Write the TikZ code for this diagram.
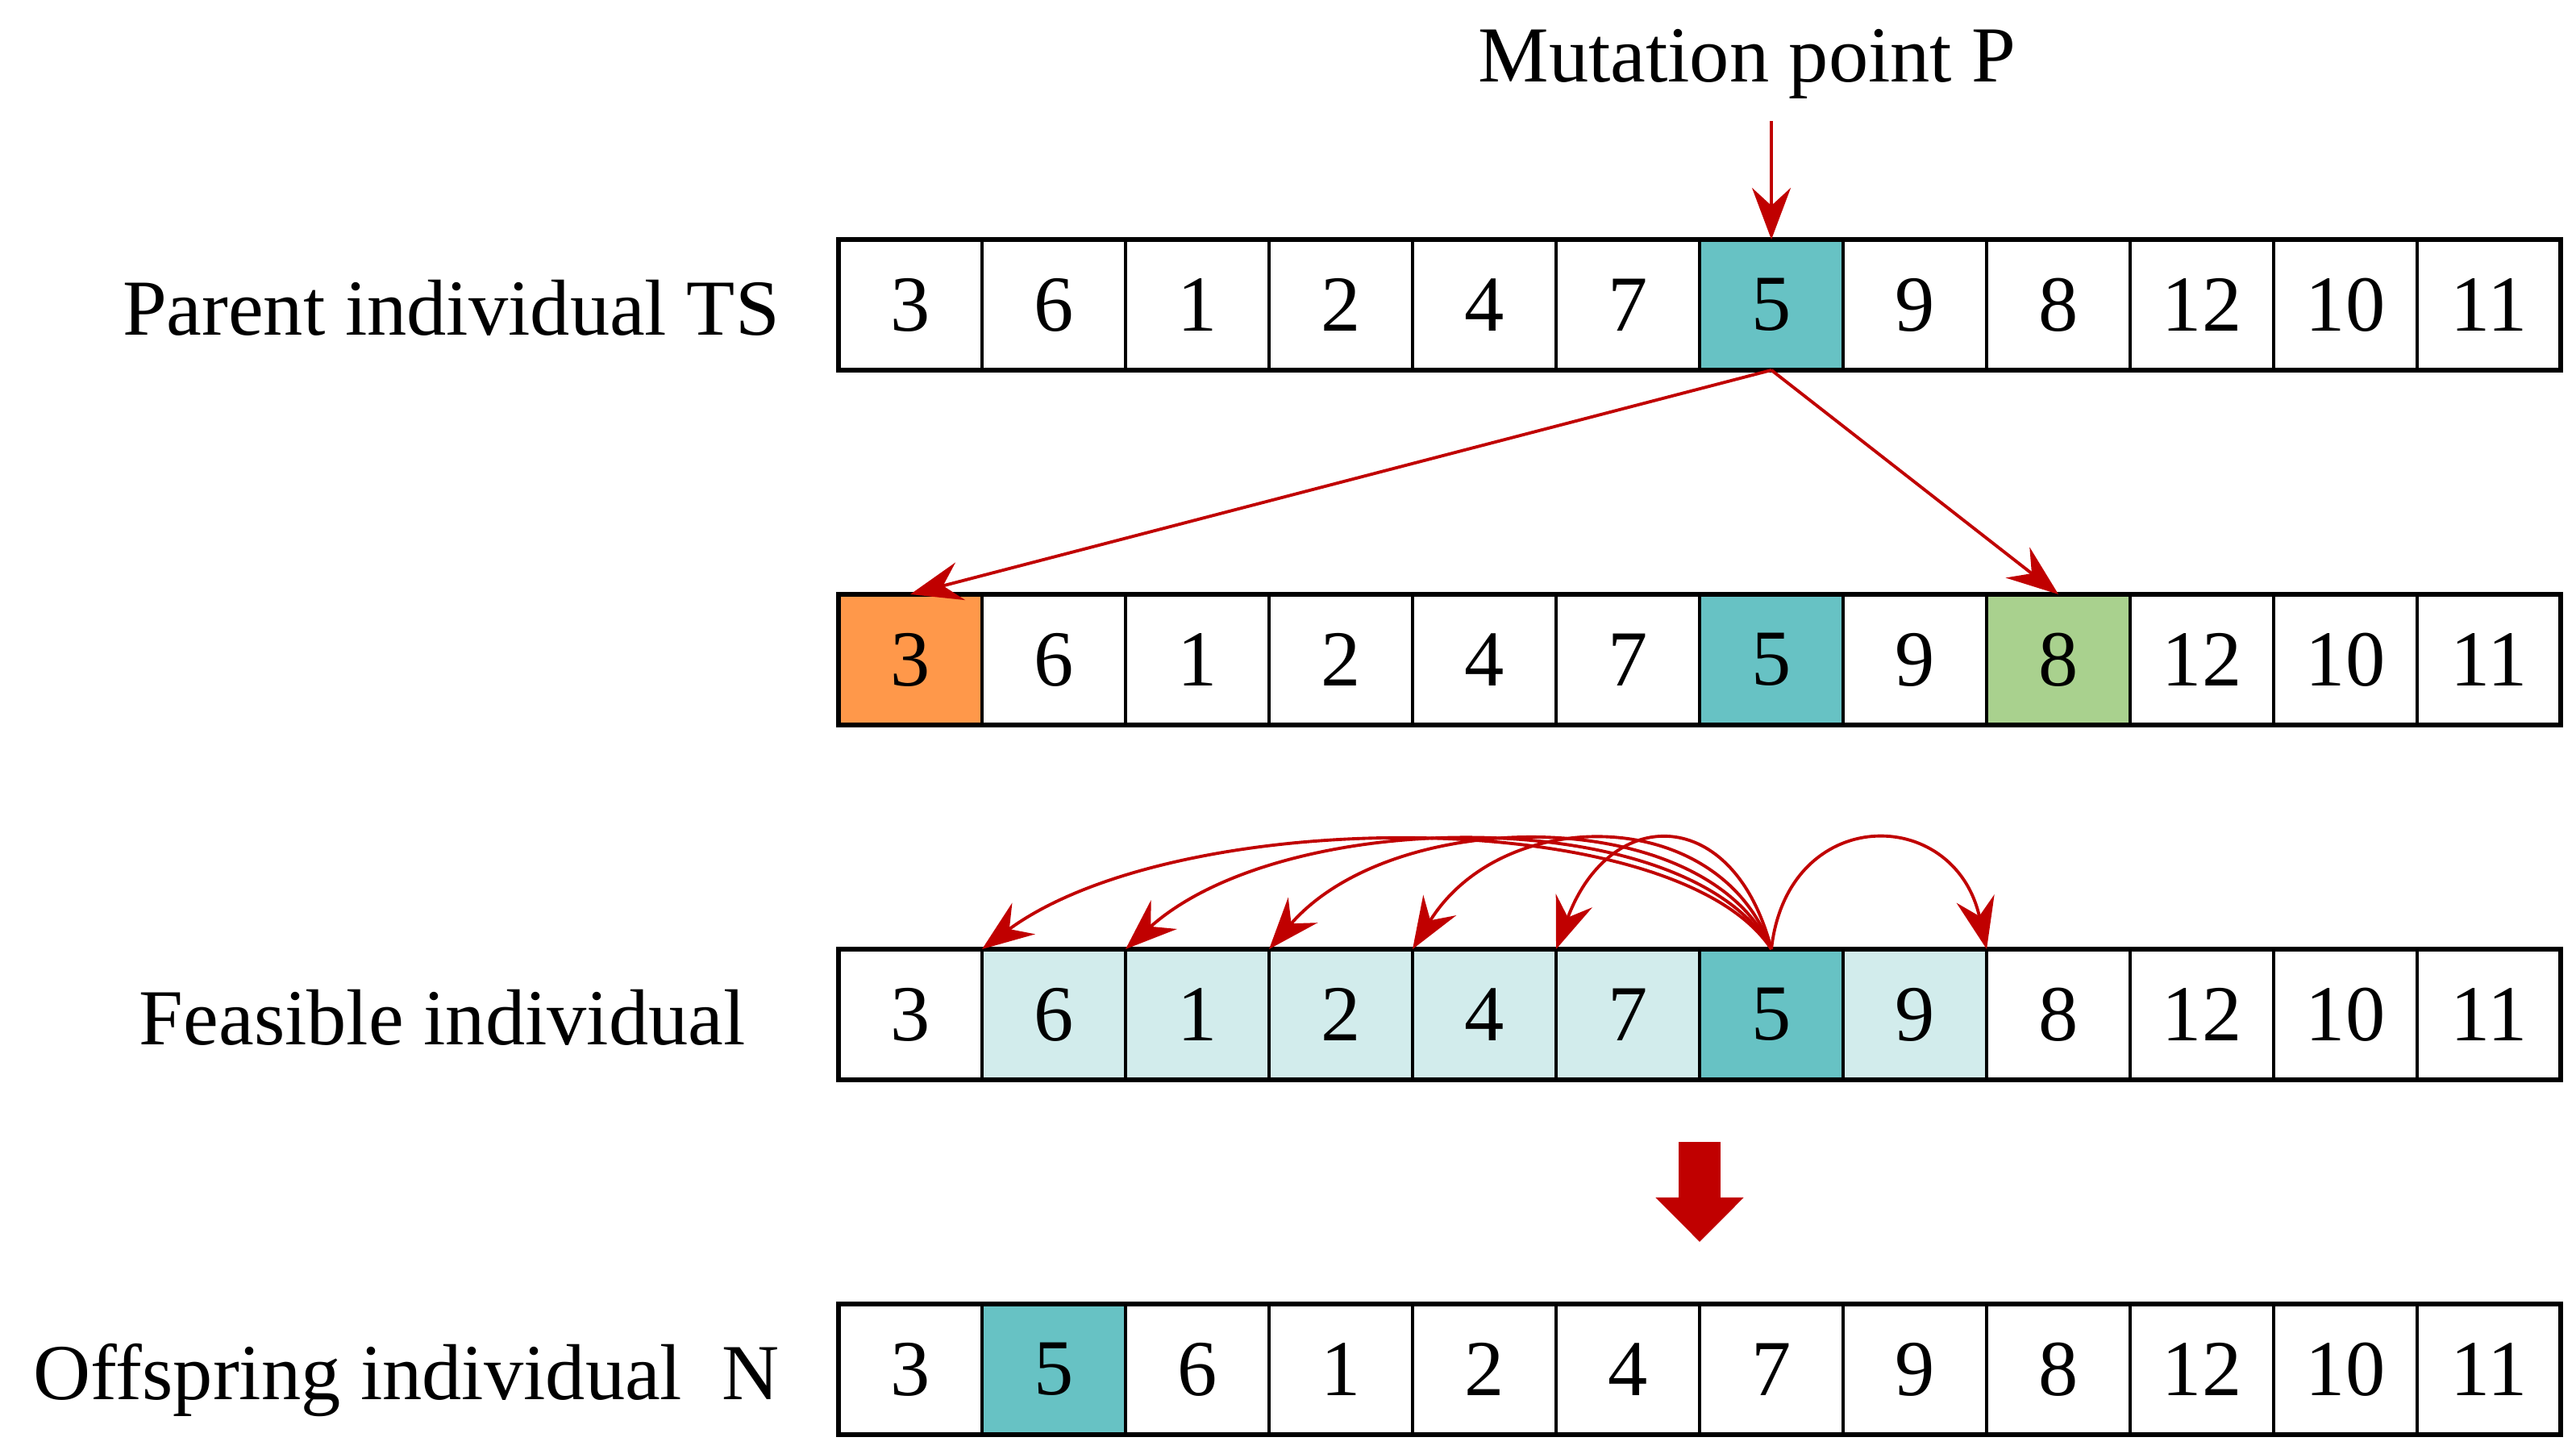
\documentclass[tikz,border=0pt]{standalone}
\usepackage{fontspec}
\setmainfont{Liberation Serif}
\usetikzlibrary{arrows.meta}

\definecolor{redline}{HTML}{C00000}
\definecolor{tealdark}{HTML}{67C2C4}
\definecolor{teallight}{HTML}{D2ECEC}
\definecolor{orangecell}{HTML}{FF984A}
\definecolor{greencell}{HTML}{A9D18E}

\begin{document}
\begin{tikzpicture}[
      every node/.style={font=\fontsize{14}{16}\selectfont},
      cell/.style={draw, line width=0.6pt, minimum width=0.89cm, minimum height=0.81cm, inner sep=0pt, outer sep=0pt},
      rowlabel/.style={anchor=base east, inner sep=0pt},
      frame/.style={line width=0.9pt},
      redarrow/.style={draw=redline, line width=0.55pt, -{Stealth[length=0.32cm, width=0.24cm, inset=0.11cm]}},
      bigarrow/.style={draw=redline, line width=0.256cm, -{Triangle[width=0.53cm, length=0.275cm]}}
  ]
  \useasboundingbox (0,0) rectangle (15.975,9.015);

  % Rows of genes
  \foreach \v/\f [count=\i] in {3/white,6/white,1/white,2/white,4/white,7/white,5/tealdark,9/white,8/white,12/white,10/white,11/white}
    \node[cell, fill=\f] (ts\i) at ({5.2+(\i-0.5)*0.89}, 7.125) {\v};
  \foreach \v/\f [count=\i] in {3/orangecell,6/white,1/white,2/white,4/white,7/white,5/tealdark,9/white,8/greencell,12/white,10/white,11/white}
    \node[cell, fill=\f] (mu\i) at ({5.2+(\i-0.5)*0.89}, 4.925) {\v};
  \foreach \v/\f [count=\i] in {3/white,6/teallight,1/teallight,2/teallight,4/teallight,7/teallight,5/tealdark,9/teallight,8/white,12/white,10/white,11/white}
    \node[cell, fill=\f] (fe\i) at ({5.2+(\i-0.5)*0.89}, 2.725) {\v};
  \foreach \v/\f [count=\i] in {3/white,5/tealdark,6/white,1/white,2/white,4/white,7/white,9/white,8/white,12/white,10/white,11/white}
    \node[cell, fill=\f] (of\i) at ({5.2+(\i-0.5)*0.89}, 0.525) {\v};

  % Row frames
  \draw[frame] (ts1.north west) rectangle (ts12.south east);
  \draw[frame] (mu1.north west) rectangle (mu12.south east);
  \draw[frame] (fe1.north west) rectangle (fe12.south east);
  \draw[frame] (of1.north west) rectangle (of12.south east);

  % Labels
  \node[rowlabel] (lblparent) at (4.84, 6.935) {Parent individual TS};
  \node[rowlabel] (lblfeasible) at (4.63, 2.535) {Feasible individual};
  \node[rowlabel] (lbloffspring) at (4.84, 0.335) {Offspring individual~~N};
  \node[anchor=base, inner sep=0pt] (lblmutation) at (10.835, 8.505) {Mutation point P};

  % Arrows
  \draw[redarrow] ([yshift=-0.13cm]lblmutation.south -| ts7.north) -- (ts7.north);
  \draw[redarrow] (ts7.south) -- (mu1.north);
  \draw[redarrow] (ts7.south) -- (mu9.north);
  \foreach \k in {2,...,6} {
    \pgfmathsetmacro{\d}{6.675-0.89*\k}
    \draw[redarrow] (fe7.north) .. controls +({-0.1*\d-0.1},0.9) and +({0.25*\d},0.9) .. (fe\k.north west);
  }
  \draw[redarrow] (fe7.north) .. controls +(0.1,0.9) and +(-0.2,0.9) .. (fe8.north east);
  \draw[bigarrow] ([yshift=-0.385cm]fe6.south east) -- ([yshift=0.385cm]of6.north east);

\end{tikzpicture}
\end{document}
